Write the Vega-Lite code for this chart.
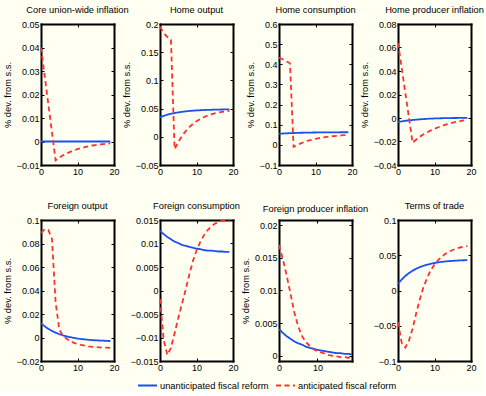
{
"$schema": "https://vega.github.io/schema/vega-lite/v6.json",
"background": "#fffff2",
"padding": {"left": 3, "top": 5, "right": 0, "bottom": 0},
"bounds": "flush",
"columns": 4,
"spacing": {"row": 55, "column": 46},
"config": {
  "font": "Liberation Sans",
  "view": {"stroke": null},
  "axis": {"domain": true, "domainColor": "#000", "domainWidth": 2, "domainCap": "square", "grid": false, "tickSize": -3, "tickColor": "#000", "tickWidth": 1, "labelPadding": 5, "labelFontSize": 9, "labelColor": "#000", "labelFlush": false, "labelOverlap": false, "titleFontSize": 9.3, "titleFontWeight": "normal", "titleColor": "#000", "titlePadding": 4, "labelExpr": "format(datum.value, '~g')"},
  "title": {"fontSize": 9.3, "fontWeight": "normal", "color": "#000", "offset": 5, "anchor": "middle"},
  "legend": {"orient": "none", "legendX": 96, "legendY": 351, "direction": "horizontal", "symbolType": "stroke", "symbolSize": 361, "symbolStrokeWidth": 2, "labelFontSize": 9.3, "labelColor": "#000", "labelOffset": 2, "columnPadding": 3}
},
"data": {"values": [
{"p":1,"s":"U","t":0,"v":0},{"p":1,"s":"U","t":1,"v":0},{"p":1,"s":"U","t":2,"v":0},{"p":1,"s":"U","t":3,"v":0},{"p":1,"s":"U","t":4,"v":0},{"p":1,"s":"U","t":5,"v":0},{"p":1,"s":"U","t":6,"v":0},{"p":1,"s":"U","t":7,"v":0},{"p":1,"s":"U","t":8,"v":0},{"p":1,"s":"U","t":9,"v":0},{"p":1,"s":"U","t":10,"v":0},{"p":1,"s":"U","t":11,"v":0},{"p":1,"s":"U","t":12,"v":0},{"p":1,"s":"U","t":13,"v":0},{"p":1,"s":"U","t":14,"v":0},{"p":1,"s":"U","t":15,"v":0},{"p":1,"s":"U","t":16,"v":0},{"p":1,"s":"U","t":17,"v":0},{"p":1,"s":"U","t":18,"v":0},{"p":1,"s":"U","t":19,"v":0},
{"p":1,"s":"A","t":0,"v":0.040},{"p":1,"s":"A","t":1,"v":0.028},{"p":1,"s":"A","t":2,"v":0.016},{"p":1,"s":"A","t":3,"v":0.004},{"p":1,"s":"A","t":4,"v":-0.0080},{"p":1,"s":"A","t":5,"v":-0.0069},{"p":1,"s":"A","t":6,"v":-0.0059},{"p":1,"s":"A","t":7,"v":-0.0051},{"p":1,"s":"A","t":8,"v":-0.0044},{"p":1,"s":"A","t":9,"v":-0.0038},{"p":1,"s":"A","t":10,"v":-0.0032},{"p":1,"s":"A","t":11,"v":-0.0028},{"p":1,"s":"A","t":12,"v":-0.0024},{"p":1,"s":"A","t":13,"v":-0.0020},{"p":1,"s":"A","t":14,"v":-0.0017},{"p":1,"s":"A","t":15,"v":-0.0015},{"p":1,"s":"A","t":16,"v":-0.0013},{"p":1,"s":"A","t":17,"v":-0.0011},{"p":1,"s":"A","t":18,"v":-0.0009},{"p":1,"s":"A","t":19,"v":-0.0008},
{"p":2,"s":"U","t":0,"v":0.0346},{"p":2,"s":"U","t":1,"v":0.0371},{"p":2,"s":"U","t":2,"v":0.0391},{"p":2,"s":"U","t":3,"v":0.0408},{"p":2,"s":"U","t":4,"v":0.0422},{"p":2,"s":"U","t":5,"v":0.0433},{"p":2,"s":"U","t":6,"v":0.0443},{"p":2,"s":"U","t":7,"v":0.0451},{"p":2,"s":"U","t":8,"v":0.0458},{"p":2,"s":"U","t":9,"v":0.0463},{"p":2,"s":"U","t":10,"v":0.0468},{"p":2,"s":"U","t":11,"v":0.0471},{"p":2,"s":"U","t":12,"v":0.0474},{"p":2,"s":"U","t":13,"v":0.0477},{"p":2,"s":"U","t":14,"v":0.0479},{"p":2,"s":"U","t":15,"v":0.0481},{"p":2,"s":"U","t":16,"v":0.0483},{"p":2,"s":"U","t":17,"v":0.0484},{"p":2,"s":"U","t":18,"v":0.0485},{"p":2,"s":"U","t":19,"v":0.0486},
{"p":2,"s":"A","t":0,"v":0.195},{"p":2,"s":"A","t":1,"v":0.184},{"p":2,"s":"A","t":2,"v":0.177},{"p":2,"s":"A","t":3,"v":0.172},{"p":2,"s":"A","t":4,"v":-0.022},{"p":2,"s":"A","t":5,"v":-0.0093},{"p":2,"s":"A","t":6,"v":0.0011},{"p":2,"s":"A","t":7,"v":0.0097},{"p":2,"s":"A","t":8,"v":0.0168},{"p":2,"s":"A","t":9,"v":0.0227},{"p":2,"s":"A","t":10,"v":0.0275},{"p":2,"s":"A","t":11,"v":0.0314},{"p":2,"s":"A","t":12,"v":0.0347},{"p":2,"s":"A","t":13,"v":0.0374},{"p":2,"s":"A","t":14,"v":0.0396},{"p":2,"s":"A","t":15,"v":0.0414},{"p":2,"s":"A","t":16,"v":0.0429},{"p":2,"s":"A","t":17,"v":0.0442},{"p":2,"s":"A","t":18,"v":0.0452},{"p":2,"s":"A","t":19,"v":0.046},
{"p":3,"s":"U","t":0,"v":0.055},{"p":3,"s":"U","t":1,"v":0.0562},{"p":3,"s":"U","t":2,"v":0.0572},{"p":3,"s":"U","t":3,"v":0.0581},{"p":3,"s":"U","t":4,"v":0.0588},{"p":3,"s":"U","t":5,"v":0.0595},{"p":3,"s":"U","t":6,"v":0.06},{"p":3,"s":"U","t":7,"v":0.0604},{"p":3,"s":"U","t":8,"v":0.0608},{"p":3,"s":"U","t":9,"v":0.0612},{"p":3,"s":"U","t":10,"v":0.0614},{"p":3,"s":"U","t":11,"v":0.0617},{"p":3,"s":"U","t":12,"v":0.0619},{"p":3,"s":"U","t":13,"v":0.062},{"p":3,"s":"U","t":14,"v":0.0622},{"p":3,"s":"U","t":15,"v":0.0623},{"p":3,"s":"U","t":16,"v":0.0624},{"p":3,"s":"U","t":17,"v":0.0625},{"p":3,"s":"U","t":18,"v":0.0626},{"p":3,"s":"U","t":19,"v":0.0626},
{"p":3,"s":"A","t":0,"v":0.433},{"p":3,"s":"A","t":1,"v":0.425},{"p":3,"s":"A","t":2,"v":0.415},{"p":3,"s":"A","t":3,"v":0.405},{"p":3,"s":"A","t":4,"v":-0.010},{"p":3,"s":"A","t":5,"v":-0.0004},{"p":3,"s":"A","t":6,"v":0.0077},{"p":3,"s":"A","t":7,"v":0.0147},{"p":3,"s":"A","t":8,"v":0.0206},{"p":3,"s":"A","t":9,"v":0.0256},{"p":3,"s":"A","t":10,"v":0.030},{"p":3,"s":"A","t":11,"v":0.0336},{"p":3,"s":"A","t":12,"v":0.0368},{"p":3,"s":"A","t":13,"v":0.0395},{"p":3,"s":"A","t":14,"v":0.0417},{"p":3,"s":"A","t":15,"v":0.0437},{"p":3,"s":"A","t":16,"v":0.0453},{"p":3,"s":"A","t":17,"v":0.0468},{"p":3,"s":"A","t":18,"v":0.048},{"p":3,"s":"A","t":19,"v":0.049},
{"p":4,"s":"U","t":0,"v":-0.0035},{"p":4,"s":"U","t":1,"v":-0.0029},{"p":4,"s":"U","t":2,"v":-0.0024},{"p":4,"s":"U","t":3,"v":-0.0020},{"p":4,"s":"U","t":4,"v":-0.0017},{"p":4,"s":"U","t":5,"v":-0.0014},{"p":4,"s":"U","t":6,"v":-0.0011},{"p":4,"s":"U","t":7,"v":-0.0009},{"p":4,"s":"U","t":8,"v":-0.0007},{"p":4,"s":"U","t":9,"v":-0.0005},{"p":4,"s":"U","t":10,"v":-0.0004},{"p":4,"s":"U","t":11,"v":-0.0003},{"p":4,"s":"U","t":12,"v":-0.0002},{"p":4,"s":"U","t":13,"v":-0.0001},{"p":4,"s":"U","t":14,"v":-0.0001},{"p":4,"s":"U","t":15,"v":0.0},{"p":4,"s":"U","t":16,"v":0.0},{"p":4,"s":"U","t":17,"v":0.0001},{"p":4,"s":"U","t":18,"v":0.0001},{"p":4,"s":"U","t":19,"v":0.0001},
{"p":4,"s":"A","t":0,"v":0.064},{"p":4,"s":"A","t":1,"v":0.0428},{"p":4,"s":"A","t":2,"v":0.0215},{"p":4,"s":"A","t":3,"v":0.0003},{"p":4,"s":"A","t":4,"v":-0.021},{"p":4,"s":"A","t":5,"v":-0.0183},{"p":4,"s":"A","t":6,"v":-0.0159},{"p":4,"s":"A","t":7,"v":-0.0139},{"p":4,"s":"A","t":8,"v":-0.0121},{"p":4,"s":"A","t":9,"v":-0.0105},{"p":4,"s":"A","t":10,"v":-0.0092},{"p":4,"s":"A","t":11,"v":-0.0079},{"p":4,"s":"A","t":12,"v":-0.0068},{"p":4,"s":"A","t":13,"v":-0.0057},{"p":4,"s":"A","t":14,"v":-0.0048},{"p":4,"s":"A","t":15,"v":-0.0040},{"p":4,"s":"A","t":16,"v":-0.0033},{"p":4,"s":"A","t":17,"v":-0.0027},{"p":4,"s":"A","t":18,"v":-0.0021},{"p":4,"s":"A","t":19,"v":-0.0016},
{"p":5,"s":"U","t":0,"v":0.0120},{"p":5,"s":"U","t":1,"v":0.0095},{"p":5,"s":"U","t":2,"v":0.0074},{"p":5,"s":"U","t":3,"v":0.0056},{"p":5,"s":"U","t":4,"v":0.0041},{"p":5,"s":"U","t":5,"v":0.0029},{"p":5,"s":"U","t":6,"v":0.0019},{"p":5,"s":"U","t":7,"v":0.0010},{"p":5,"s":"U","t":8,"v":0.0003},{"p":5,"s":"U","t":9,"v":-0.0003},{"p":5,"s":"U","t":10,"v":-0.0009},{"p":5,"s":"U","t":11,"v":-0.0013},{"p":5,"s":"U","t":12,"v":-0.0016},{"p":5,"s":"U","t":13,"v":-0.0020},{"p":5,"s":"U","t":14,"v":-0.0022},{"p":5,"s":"U","t":15,"v":-0.0024},{"p":5,"s":"U","t":16,"v":-0.0026},{"p":5,"s":"U","t":17,"v":-0.0027},{"p":5,"s":"U","t":18,"v":-0.0029},{"p":5,"s":"U","t":19,"v":-0.0030},
{"p":5,"s":"A","t":0,"v":0.089},{"p":5,"s":"A","t":1,"v":0.092},{"p":5,"s":"A","t":2,"v":0.0915},{"p":5,"s":"A","t":3,"v":0.084},{"p":5,"s":"A","t":4,"v":0.030},{"p":5,"s":"A","t":5,"v":0.007},{"p":5,"s":"A","t":6,"v":0.0015},{"p":5,"s":"A","t":7,"v":-0.001},{"p":5,"s":"A","t":8,"v":-0.003},{"p":5,"s":"A","t":9,"v":-0.0045},{"p":5,"s":"A","t":10,"v":-0.0055},{"p":5,"s":"A","t":11,"v":-0.0063},{"p":5,"s":"A","t":12,"v":-0.007},{"p":5,"s":"A","t":13,"v":-0.0075},{"p":5,"s":"A","t":14,"v":-0.0079},{"p":5,"s":"A","t":15,"v":-0.0082},{"p":5,"s":"A","t":16,"v":-0.0084},{"p":5,"s":"A","t":17,"v":-0.0086},{"p":5,"s":"A","t":18,"v":-0.0087},{"p":5,"s":"A","t":19,"v":-0.0088},
{"p":6,"s":"U","t":0,"v":0.0127},{"p":6,"s":"U","t":1,"v":0.0120},{"p":6,"s":"U","t":2,"v":0.0114},{"p":6,"s":"U","t":3,"v":0.0109},{"p":6,"s":"U","t":4,"v":0.0104},{"p":6,"s":"U","t":5,"v":0.0101},{"p":6,"s":"U","t":6,"v":0.0097},{"p":6,"s":"U","t":7,"v":0.0095},{"p":6,"s":"U","t":8,"v":0.0093},{"p":6,"s":"U","t":9,"v":0.0091},{"p":6,"s":"U","t":10,"v":0.0089},{"p":6,"s":"U","t":11,"v":0.0088},{"p":6,"s":"U","t":12,"v":0.0086},{"p":6,"s":"U","t":13,"v":0.0085},{"p":6,"s":"U","t":14,"v":0.0085},{"p":6,"s":"U","t":15,"v":0.0084},{"p":6,"s":"U","t":16,"v":0.0083},{"p":6,"s":"U","t":17,"v":0.0083},{"p":6,"s":"U","t":18,"v":0.0082},{"p":6,"s":"U","t":19,"v":0.0082},
{"p":6,"s":"A","t":0,"v":-0.0018},{"p":6,"s":"A","t":1,"v":-0.0105},{"p":6,"s":"A","t":2,"v":-0.0137},{"p":6,"s":"A","t":3,"v":-0.0122},{"p":6,"s":"A","t":4,"v":-0.0091},{"p":6,"s":"A","t":5,"v":-0.0059},{"p":6,"s":"A","t":6,"v":-0.0029},{"p":6,"s":"A","t":7,"v":0.0001},{"p":6,"s":"A","t":8,"v":0.0033},{"p":6,"s":"A","t":9,"v":0.0062},{"p":6,"s":"A","t":10,"v":0.0085},{"p":6,"s":"A","t":11,"v":0.0103},{"p":6,"s":"A","t":12,"v":0.0117},{"p":6,"s":"A","t":13,"v":0.0128},{"p":6,"s":"A","t":14,"v":0.0136},{"p":6,"s":"A","t":15,"v":0.0142},{"p":6,"s":"A","t":16,"v":0.0146},{"p":6,"s":"A","t":17,"v":0.0148},{"p":6,"s":"A","t":18,"v":0.0149},{"p":6,"s":"A","t":19,"v":0.0150},
{"p":7,"s":"U","t":0,"v":0.0041},{"p":7,"s":"U","t":1,"v":0.0035},{"p":7,"s":"U","t":2,"v":0.0030},{"p":7,"s":"U","t":3,"v":0.0026},{"p":7,"s":"U","t":4,"v":0.0022},{"p":7,"s":"U","t":5,"v":0.0019},{"p":7,"s":"U","t":6,"v":0.0017},{"p":7,"s":"U","t":7,"v":0.0014},{"p":7,"s":"U","t":8,"v":0.0012},{"p":7,"s":"U","t":9,"v":0.0011},{"p":7,"s":"U","t":10,"v":0.0009},{"p":7,"s":"U","t":11,"v":0.0008},{"p":7,"s":"U","t":12,"v":0.0007},{"p":7,"s":"U","t":13,"v":0.0006},{"p":7,"s":"U","t":14,"v":0.0005},{"p":7,"s":"U","t":15,"v":0.0004},{"p":7,"s":"U","t":16,"v":0.0004},{"p":7,"s":"U","t":17,"v":0.0003},{"p":7,"s":"U","t":18,"v":0.0003},{"p":7,"s":"U","t":19,"v":0.0002},
{"p":7,"s":"A","t":0,"v":0.0170},{"p":7,"s":"A","t":1,"v":0.0148},{"p":7,"s":"A","t":2,"v":0.0123},{"p":7,"s":"A","t":3,"v":0.0095},{"p":7,"s":"A","t":4,"v":0.0066},{"p":7,"s":"A","t":5,"v":0.0045},{"p":7,"s":"A","t":6,"v":0.0030},{"p":7,"s":"A","t":7,"v":0.0021},{"p":7,"s":"A","t":8,"v":0.0015},{"p":7,"s":"A","t":9,"v":0.0010},{"p":7,"s":"A","t":10,"v":0.0007},{"p":7,"s":"A","t":11,"v":0.0005},{"p":7,"s":"A","t":12,"v":0.0003},{"p":7,"s":"A","t":13,"v":0.0001},{"p":7,"s":"A","t":14,"v":0.0},{"p":7,"s":"A","t":15,"v":-0.0001},{"p":7,"s":"A","t":16,"v":-0.0002},{"p":7,"s":"A","t":17,"v":-0.0002},{"p":7,"s":"A","t":18,"v":-0.0003},{"p":7,"s":"A","t":19,"v":-0.0003},
{"p":8,"s":"U","t":0,"v":0.0095},{"p":8,"s":"U","t":1,"v":0.0156},{"p":8,"s":"U","t":2,"v":0.0206},{"p":8,"s":"U","t":3,"v":0.0247},{"p":8,"s":"U","t":4,"v":0.0281},{"p":8,"s":"U","t":5,"v":0.0309},{"p":8,"s":"U","t":6,"v":0.0332},{"p":8,"s":"U","t":7,"v":0.0351},{"p":8,"s":"U","t":8,"v":0.0367},{"p":8,"s":"U","t":9,"v":0.038},{"p":8,"s":"U","t":10,"v":0.039},{"p":8,"s":"U","t":11,"v":0.0399},{"p":8,"s":"U","t":12,"v":0.0406},{"p":8,"s":"U","t":13,"v":0.0412},{"p":8,"s":"U","t":14,"v":0.0417},{"p":8,"s":"U","t":15,"v":0.0421},{"p":8,"s":"U","t":16,"v":0.0424},{"p":8,"s":"U","t":17,"v":0.0427},{"p":8,"s":"U","t":18,"v":0.0429},{"p":8,"s":"U","t":19,"v":0.0431},
{"p":8,"s":"A","t":0,"v":-0.045},{"p":8,"s":"A","t":1,"v":-0.074},{"p":8,"s":"A","t":2,"v":-0.081},{"p":8,"s":"A","t":3,"v":-0.071},{"p":8,"s":"A","t":4,"v":-0.054},{"p":8,"s":"A","t":5,"v":-0.032},{"p":8,"s":"A","t":6,"v":-0.012},{"p":8,"s":"A","t":7,"v":0.005},{"p":8,"s":"A","t":8,"v":0.018},{"p":8,"s":"A","t":9,"v":0.029},{"p":8,"s":"A","t":10,"v":0.037},{"p":8,"s":"A","t":11,"v":0.043},{"p":8,"s":"A","t":12,"v":0.048},{"p":8,"s":"A","t":13,"v":0.052},{"p":8,"s":"A","t":14,"v":0.055},{"p":8,"s":"A","t":15,"v":0.0575},{"p":8,"s":"A","t":16,"v":0.0595},{"p":8,"s":"A","t":17,"v":0.061},{"p":8,"s":"A","t":18,"v":0.062},{"p":8,"s":"A","t":19,"v":0.063}
]},
"concat": [
{"title": "Core union-wide inflation", "width": 73, "height": 141, "transform": [{"filter": "datum.p == 1"}],
 "layer": [
  {"mark": {"type": "line", "strokeWidth": 1.8},
   "encoding": {
    "x": {"field": "t", "type": "quantitative", "scale": {"domain": [0, 20]}, "axis": {"values": [0, 10, 20], "title": null}},
    "y": {"field": "v", "type": "quantitative", "scale": {"domain": [-0.01, 0.05]}, "axis": {"values": [-0.01, 0, 0.01, 0.02, 0.03, 0.04, 0.05], "title": "% dev. from s.s."}},
    "color": {"field": "s", "type": "nominal", "scale": {"domain": ["U", "A"], "range": ["#1a50f0", "#ff3030"]}, "legend": {"title": null, "labelExpr": "datum.value == 'U' ? 'unanticipated fiscal reform' : 'anticipated fiscal reform'"}},
    "strokeDash": {"field": "s", "type": "nominal", "scale": {"domain": ["U", "A"], "range": [[1, 0], [5, 3.5]]}, "legend": {"title": null, "labelExpr": "datum.value == 'U' ? 'unanticipated fiscal reform' : 'anticipated fiscal reform'"}}
   }},
  {"mark": {"type": "point", "opacity": 0},
   "encoding": {
    "x": {"field": "t", "type": "quantitative", "scale": {"domain": [0, 20]}, "axis": {"orient": "top", "values": [0, 10, 20], "labels": false, "title": null}},
    "y": {"field": "v", "type": "quantitative", "scale": {"domain": [-0.01, 0.05]}, "axis": {"orient": "right", "values": [-0.01, 0, 0.01, 0.02, 0.03, 0.04, 0.05], "labels": false, "title": null}}
   }}
 ],
 "resolve": {"axis": {"x": "independent", "y": "independent"}}},
{"title": "Home output", "width": 73, "height": 141, "transform": [{"filter": "datum.p == 2"}],
 "layer": [
  {"mark": {"type": "line", "strokeWidth": 1.8},
   "encoding": {
    "x": {"field": "t", "type": "quantitative", "scale": {"domain": [0, 20]}, "axis": {"values": [0, 10, 20], "title": null}},
    "y": {"field": "v", "type": "quantitative", "scale": {"domain": [-0.05, 0.2]}, "axis": {"values": [-0.05, 0, 0.05, 0.1, 0.15, 0.2], "title": "% dev. from s.s."}},
    "color": {"field": "s", "type": "nominal", "scale": {"domain": ["U", "A"], "range": ["#1a50f0", "#ff3030"]}, "legend": {"title": null, "labelExpr": "datum.value == 'U' ? 'unanticipated fiscal reform' : 'anticipated fiscal reform'"}},
    "strokeDash": {"field": "s", "type": "nominal", "scale": {"domain": ["U", "A"], "range": [[1, 0], [5, 3.5]]}, "legend": {"title": null, "labelExpr": "datum.value == 'U' ? 'unanticipated fiscal reform' : 'anticipated fiscal reform'"}}
   }},
  {"mark": {"type": "point", "opacity": 0},
   "encoding": {
    "x": {"field": "t", "type": "quantitative", "scale": {"domain": [0, 20]}, "axis": {"orient": "top", "values": [0, 10, 20], "labels": false, "title": null}},
    "y": {"field": "v", "type": "quantitative", "scale": {"domain": [-0.05, 0.2]}, "axis": {"orient": "right", "values": [-0.05, 0, 0.05, 0.1, 0.15, 0.2], "labels": false, "title": null}}
   }}
 ],
 "resolve": {"axis": {"x": "independent", "y": "independent"}}},
{"title": "Home consumption", "width": 73, "height": 141, "transform": [{"filter": "datum.p == 3"}],
 "layer": [
  {"mark": {"type": "line", "strokeWidth": 1.8},
   "encoding": {
    "x": {"field": "t", "type": "quantitative", "scale": {"domain": [0, 20]}, "axis": {"values": [0, 10, 20], "title": null}},
    "y": {"field": "v", "type": "quantitative", "scale": {"domain": [-0.1, 0.6]}, "axis": {"values": [-0.1, 0, 0.1, 0.2, 0.3, 0.4, 0.5, 0.6], "title": "% dev. from s.s."}},
    "color": {"field": "s", "type": "nominal", "scale": {"domain": ["U", "A"], "range": ["#1a50f0", "#ff3030"]}, "legend": {"title": null, "labelExpr": "datum.value == 'U' ? 'unanticipated fiscal reform' : 'anticipated fiscal reform'"}},
    "strokeDash": {"field": "s", "type": "nominal", "scale": {"domain": ["U", "A"], "range": [[1, 0], [5, 3.5]]}, "legend": {"title": null, "labelExpr": "datum.value == 'U' ? 'unanticipated fiscal reform' : 'anticipated fiscal reform'"}}
   }},
  {"mark": {"type": "point", "opacity": 0},
   "encoding": {
    "x": {"field": "t", "type": "quantitative", "scale": {"domain": [0, 20]}, "axis": {"orient": "top", "values": [0, 10, 20], "labels": false, "title": null}},
    "y": {"field": "v", "type": "quantitative", "scale": {"domain": [-0.1, 0.6]}, "axis": {"orient": "right", "values": [-0.1, 0, 0.1, 0.2, 0.3, 0.4, 0.5, 0.6], "labels": false, "title": null}}
   }}
 ],
 "resolve": {"axis": {"x": "independent", "y": "independent"}}},
{"title": "Home producer inflation", "width": 73, "height": 141, "transform": [{"filter": "datum.p == 4"}],
 "layer": [
  {"mark": {"type": "line", "strokeWidth": 1.8},
   "encoding": {
    "x": {"field": "t", "type": "quantitative", "scale": {"domain": [0, 20]}, "axis": {"values": [0, 10, 20], "title": null}},
    "y": {"field": "v", "type": "quantitative", "scale": {"domain": [-0.04, 0.08]}, "axis": {"values": [-0.04, -0.02, 0, 0.02, 0.04, 0.06, 0.08], "title": "% dev. from s.s."}},
    "color": {"field": "s", "type": "nominal", "scale": {"domain": ["U", "A"], "range": ["#1a50f0", "#ff3030"]}, "legend": {"title": null, "labelExpr": "datum.value == 'U' ? 'unanticipated fiscal reform' : 'anticipated fiscal reform'"}},
    "strokeDash": {"field": "s", "type": "nominal", "scale": {"domain": ["U", "A"], "range": [[1, 0], [5, 3.5]]}, "legend": {"title": null, "labelExpr": "datum.value == 'U' ? 'unanticipated fiscal reform' : 'anticipated fiscal reform'"}}
   }},
  {"mark": {"type": "point", "opacity": 0},
   "encoding": {
    "x": {"field": "t", "type": "quantitative", "scale": {"domain": [0, 20]}, "axis": {"orient": "top", "values": [0, 10, 20], "labels": false, "title": null}},
    "y": {"field": "v", "type": "quantitative", "scale": {"domain": [-0.04, 0.08]}, "axis": {"orient": "right", "values": [-0.04, -0.02, 0, 0.02, 0.04, 0.06, 0.08], "labels": false, "title": null}}
   }}
 ],
 "resolve": {"axis": {"x": "independent", "y": "independent"}}},
{"title": "Foreign output", "width": 73, "height": 141, "transform": [{"filter": "datum.p == 5"}],
 "layer": [
  {"mark": {"type": "line", "strokeWidth": 1.8},
   "encoding": {
    "x": {"field": "t", "type": "quantitative", "scale": {"domain": [0, 20]}, "axis": {"values": [0, 10, 20], "title": null}},
    "y": {"field": "v", "type": "quantitative", "scale": {"domain": [-0.02, 0.1]}, "axis": {"values": [-0.02, 0, 0.02, 0.04, 0.06, 0.08, 0.1], "title": "% dev. from s.s."}},
    "color": {"field": "s", "type": "nominal", "scale": {"domain": ["U", "A"], "range": ["#1a50f0", "#ff3030"]}, "legend": {"title": null, "labelExpr": "datum.value == 'U' ? 'unanticipated fiscal reform' : 'anticipated fiscal reform'"}},
    "strokeDash": {"field": "s", "type": "nominal", "scale": {"domain": ["U", "A"], "range": [[1, 0], [5, 3.5]]}, "legend": {"title": null, "labelExpr": "datum.value == 'U' ? 'unanticipated fiscal reform' : 'anticipated fiscal reform'"}}
   }},
  {"mark": {"type": "point", "opacity": 0},
   "encoding": {
    "x": {"field": "t", "type": "quantitative", "scale": {"domain": [0, 20]}, "axis": {"orient": "top", "values": [0, 10, 20], "labels": false, "title": null}},
    "y": {"field": "v", "type": "quantitative", "scale": {"domain": [-0.02, 0.1]}, "axis": {"orient": "right", "values": [-0.02, 0, 0.02, 0.04, 0.06, 0.08, 0.1], "labels": false, "title": null}}
   }}
 ],
 "resolve": {"axis": {"x": "independent", "y": "independent"}}},
{"title": "Foreign consumption", "width": 73, "height": 141, "transform": [{"filter": "datum.p == 6"}],
 "layer": [
  {"mark": {"type": "line", "strokeWidth": 1.8},
   "encoding": {
    "x": {"field": "t", "type": "quantitative", "scale": {"domain": [0, 20]}, "axis": {"values": [0, 10, 20], "title": null}},
    "y": {"field": "v", "type": "quantitative", "scale": {"domain": [-0.015, 0.015]}, "axis": {"values": [-0.015, -0.01, -0.005, 0, 0.005, 0.01, 0.015], "title": null}},
    "color": {"field": "s", "type": "nominal", "scale": {"domain": ["U", "A"], "range": ["#1a50f0", "#ff3030"]}, "legend": {"title": null, "labelExpr": "datum.value == 'U' ? 'unanticipated fiscal reform' : 'anticipated fiscal reform'"}},
    "strokeDash": {"field": "s", "type": "nominal", "scale": {"domain": ["U", "A"], "range": [[1, 0], [5, 3.5]]}, "legend": {"title": null, "labelExpr": "datum.value == 'U' ? 'unanticipated fiscal reform' : 'anticipated fiscal reform'"}}
   }},
  {"mark": {"type": "point", "opacity": 0},
   "encoding": {
    "x": {"field": "t", "type": "quantitative", "scale": {"domain": [0, 20]}, "axis": {"orient": "top", "values": [0, 10, 20], "labels": false, "title": null}},
    "y": {"field": "v", "type": "quantitative", "scale": {"domain": [-0.015, 0.015]}, "axis": {"orient": "right", "values": [-0.015, -0.01, -0.005, 0, 0.005, 0.01, 0.015], "labels": false, "title": null}}
   }}
 ],
 "resolve": {"axis": {"x": "independent", "y": "independent"}}},
{"title": "Foreign producer inflation", "width": 73, "height": 141, "transform": [{"filter": "datum.p == 7"}],
 "layer": [
  {"mark": {"type": "line", "strokeWidth": 1.8},
   "encoding": {
    "x": {"field": "t", "type": "quantitative", "scale": {"domain": [0, 19]}, "axis": {"values": [0, 10], "title": null}},
    "y": {"field": "v", "type": "quantitative", "scale": {"domain": [-0.0008, 0.0208]}, "axis": {"values": [0, 0.005, 0.01, 0.015, 0.02], "title": "% dev. from s.s."}},
    "color": {"field": "s", "type": "nominal", "scale": {"domain": ["U", "A"], "range": ["#1a50f0", "#ff3030"]}, "legend": {"title": null, "labelExpr": "datum.value == 'U' ? 'unanticipated fiscal reform' : 'anticipated fiscal reform'"}},
    "strokeDash": {"field": "s", "type": "nominal", "scale": {"domain": ["U", "A"], "range": [[1, 0], [5, 3.5]]}, "legend": {"title": null, "labelExpr": "datum.value == 'U' ? 'unanticipated fiscal reform' : 'anticipated fiscal reform'"}}
   }},
  {"mark": {"type": "point", "opacity": 0},
   "encoding": {
    "x": {"field": "t", "type": "quantitative", "scale": {"domain": [0, 19]}, "axis": {"orient": "top", "values": [0, 10], "labels": false, "title": null}},
    "y": {"field": "v", "type": "quantitative", "scale": {"domain": [-0.0008, 0.0208]}, "axis": {"orient": "right", "values": [0, 0.005, 0.01, 0.015, 0.02], "labels": false, "title": null}}
   }}
 ],
 "resolve": {"axis": {"x": "independent", "y": "independent"}}},
{"title": "Terms of trade", "width": 73, "height": 141, "transform": [{"filter": "datum.p == 8"}],
 "layer": [
  {"mark": {"type": "line", "strokeWidth": 1.8},
   "encoding": {
    "x": {"field": "t", "type": "quantitative", "scale": {"domain": [0, 20]}, "axis": {"values": [0, 10, 20], "title": null}},
    "y": {"field": "v", "type": "quantitative", "scale": {"domain": [-0.1, 0.1]}, "axis": {"values": [-0.1, -0.05, 0, 0.05, 0.1], "title": null}},
    "color": {"field": "s", "type": "nominal", "scale": {"domain": ["U", "A"], "range": ["#1a50f0", "#ff3030"]}, "legend": {"title": null, "labelExpr": "datum.value == 'U' ? 'unanticipated fiscal reform' : 'anticipated fiscal reform'"}},
    "strokeDash": {"field": "s", "type": "nominal", "scale": {"domain": ["U", "A"], "range": [[1, 0], [5, 3.5]]}, "legend": {"title": null, "labelExpr": "datum.value == 'U' ? 'unanticipated fiscal reform' : 'anticipated fiscal reform'"}}
   }},
  {"mark": {"type": "point", "opacity": 0},
   "encoding": {
    "x": {"field": "t", "type": "quantitative", "scale": {"domain": [0, 20]}, "axis": {"orient": "top", "values": [0, 10, 20], "labels": false, "title": null}},
    "y": {"field": "v", "type": "quantitative", "scale": {"domain": [-0.1, 0.1]}, "axis": {"orient": "right", "values": [-0.1, -0.05, 0, 0.05, 0.1], "labels": false, "title": null}}
   }}
 ],
 "resolve": {"axis": {"x": "independent", "y": "independent"}}}
]
}
